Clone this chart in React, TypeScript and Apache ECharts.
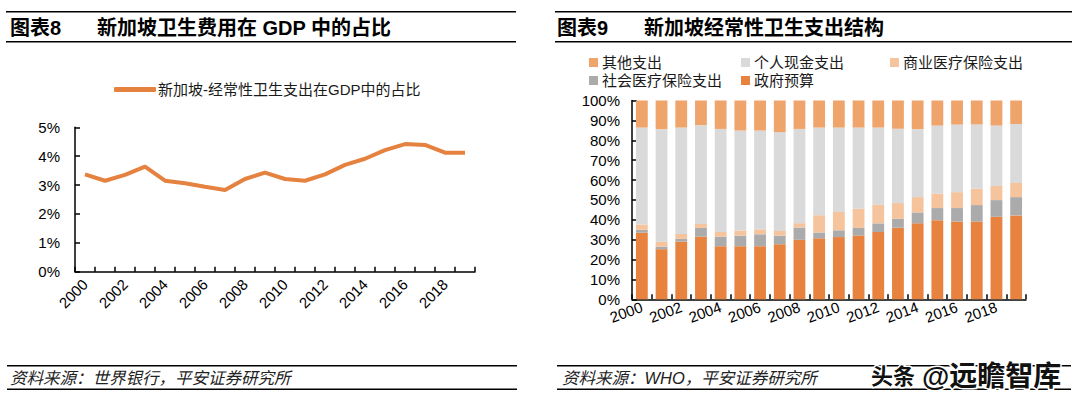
import React, { useEffect, useRef } from 'react';
import * as echarts from 'echarts';

const FONT = "'Liberation Sans', 'Noto Sans CJK SC', sans-serif";

// 年份
const years = [
  '2000', '2001', '2002', '2003', '2004', '2005', '2006', '2007', '2008', '2009',
  '2010', '2011', '2012', '2013', '2014', '2015', '2016', '2017', '2018', '2019',
];

// 图表8：经常性卫生支出占GDP比重（%）
const gdpShare = [
  3.37, 3.15, 3.35, 3.64, 3.15, 3.06, 2.94, 2.83, 3.21, 3.43,
  3.21, 3.15, 3.37, 3.70, 3.91, 4.21, 4.42, 4.39, 4.12, 4.12,
];

// 图表9：卫生支出结构（%）
const govBudget = [33.5, 25.2, 29.0, 31.5, 26.7, 26.7, 26.7, 27.7, 29.9, 30.7, 31.3, 32.1, 33.8, 36.0, 38.2, 39.8, 39.1, 39.1, 41.5, 42.2];
const socialIns = [1.5, 1.3, 1.4, 4.4, 4.8, 5.3, 6.0, 4.3, 6.2, 2.9, 3.4, 3.8, 4.4, 4.5, 5.5, 6.1, 6.8, 8.3, 8.4, 9.2];
const commercialIns = [2.6, 2.5, 2.5, 2.0, 2.4, 2.6, 2.5, 2.4, 2.2, 8.7, 9.2, 9.6, 9.4, 7.9, 7.7, 7.3, 8.0, 8.3, 7.1, 7.1];
const outOfPocket = [48.8, 56.6, 53.5, 49.7, 51.8, 50.3, 49.7, 49.7, 47.4, 44.1, 42.5, 40.9, 38.8, 37.4, 34.2, 34.2, 34.0, 32.3, 30.4, 29.7];
const otherExp = [13.6, 14.4, 13.6, 12.4, 14.3, 15.1, 15.1, 15.9, 14.3, 13.6, 13.6, 13.6, 13.6, 14.2, 14.4, 12.6, 12.1, 12.0, 12.6, 11.8];

const leftTicks = [0, 1, 2, 3, 4, 5];

const hLine = (x1: number, x2: number, y: number) => ({
  type: 'line',
  shape: { x1, y1: y, x2, y2: y },
  style: { stroke: '#000', lineWidth: 1.5 },
});

const txt = (text: string, x: number, y: number, extra: any = {}) => ({
  type: 'text',
  x,
  y,
  style: {
    text,
    fontFamily: FONT,
    fontSize: 15,
    fill: '#000',
    verticalAlign: 'middle',
    ...extra,
  },
});

const axisCommon = {
  axisLine: { show: true, lineStyle: { color: '#000', width: 1.5 } },
  axisTick: { show: true, inside: true, length: 5, lineStyle: { color: '#000', width: 1.5 } },
  splitLine: { show: false },
};

const legendItem = (name: string, left: number, top: number) => ({
  data: [name],
  left,
  top,
  icon: 'rect',
  itemWidth: 9,
  itemHeight: 9,
  itemGap: 0,
  padding: 0,
  textStyle: { fontSize: 15, fontFamily: FONT, color: '#1a1a1a', padding: [0, 0, 0, -1] },
});

const App = () => {
  const ref = useRef<HTMLDivElement>(null);

  useEffect(() => {
    document.body.style.margin = '0';
    if (!ref.current) return;
    const chart = echarts.init(ref.current, undefined, { renderer: 'svg' });

    const option: any = {
      animation: false,
      backgroundColor: '#fff',
      textStyle: { fontFamily: FONT },
      legend: [
        {
          data: ['新加坡-经常性卫生支出在GDP中的占比'],
          left: 114,
          top: 82,
          icon: 'roundRect',
          itemWidth: 42,
          itemHeight: 5,
          padding: 0,
          textStyle: { fontSize: 15, fontFamily: FONT, color: '#1a1a1a', padding: [0, 0, 0, -3] },
        },
        legendItem('其他支出', 589, 55),
        legendItem('个人现金支出', 741, 55),
        legendItem('商业医疗保险支出', 890, 55),
        legendItem('社会医疗保险支出', 589, 73),
        legendItem('政府预算', 741, 73),
      ],
      grid: [
        { left: 75, top: 127.3, width: 400, height: 144.4 },
        { left: 632, top: 100.5, width: 394, height: 198.8 },
      ],
      xAxis: [
        {
          gridIndex: 0,
          type: 'category',
          data: years,
          boundaryGap: true,
          ...axisCommon,
          axisTick: { ...axisCommon.axisTick, interval: 0 },
          axisLabel: { interval: 1, rotate: 45, margin: 10, fontSize: 15, color: '#000', fontFamily: FONT },
        },
        {
          gridIndex: 1,
          type: 'category',
          data: years,
          boundaryGap: true,
          ...axisCommon,
          axisTick: { ...axisCommon.axisTick, interval: 0 },
          axisLabel: { interval: 1, rotate: 20, margin: 7, fontSize: 15, color: '#000', fontFamily: FONT },
        },
      ],
      yAxis: [
        {
          gridIndex: 0,
          type: 'value',
          min: leftTicks[0],
          max: leftTicks[leftTicks.length - 1],
          interval: 1,
          ...axisCommon,
          axisLabel: { formatter: (v: number) => v + '%', margin: 15, fontSize: 15, color: '#000', fontFamily: FONT },
        },
        {
          gridIndex: 1,
          type: 'value',
          min: 0,
          max: 100,
          interval: 10,
          ...axisCommon,
          axisLabel: { formatter: (v: number) => v + '%', margin: 12, fontSize: 15, color: '#000', fontFamily: FONT },
        },
      ],
      series: [
        {
          name: '新加坡-经常性卫生支出在GDP中的占比',
          type: 'line',
          xAxisIndex: 0,
          yAxisIndex: 0,
          data: gdpShare,
          symbol: 'none',
          lineStyle: { color: '#E5823F', width: 4 },
          itemStyle: { color: '#E5823F' },
        },
        {
          name: '政府预算',
          type: 'bar',
          stack: 'total',
          xAxisIndex: 1,
          yAxisIndex: 1,
          barWidth: '60%',
          data: govBudget,
          itemStyle: { color: '#E8823F' },
        },
        {
          name: '社会医疗保险支出',
          type: 'bar',
          stack: 'total',
          xAxisIndex: 1,
          yAxisIndex: 1,
          data: socialIns,
          itemStyle: { color: '#ABABAB' },
        },
        {
          name: '商业医疗保险支出',
          type: 'bar',
          stack: 'total',
          xAxisIndex: 1,
          yAxisIndex: 1,
          data: commercialIns,
          itemStyle: { color: '#F5C39C' },
        },
        {
          name: '个人现金支出',
          type: 'bar',
          stack: 'total',
          xAxisIndex: 1,
          yAxisIndex: 1,
          data: outOfPocket,
          itemStyle: { color: '#DADADA' },
        },
        {
          name: '其他支出',
          type: 'bar',
          stack: 'total',
          xAxisIndex: 1,
          yAxisIndex: 1,
          data: otherExp,
          itemStyle: { color: '#EFA46C' },
        },
      ],
      graphic: [
        // 左侧标题
        hLine(6, 516, 11.7),
        hLine(6, 516, 41.7),
        txt('图表8', 10, 28, { fontSize: 20, fontWeight: 'bold' }),
        txt('新加坡卫生费用在 GDP 中的占比', 97, 28, { fontSize: 20, fontWeight: 'bold' }),
        // 右侧标题
        hLine(555, 1072, 11.7),
        hLine(555, 1072, 41.7),
        txt('图表9', 557, 28, { fontSize: 20, fontWeight: 'bold' }),
        txt('新加坡经常性卫生支出结构', 644, 28, { fontSize: 20, fontWeight: 'bold' }),
        // 资料来源
        hLine(7, 517, 365.7),
        hLine(7, 517, 389.3),
        txt('资料来源：世界银行，平安证券研究所', 10, 377.5, { fontSize: 16.5, fontStyle: 'italic', fill: '#222' }),
        hLine(557, 1071, 365.7),
        hLine(557, 1071, 389.3),
        txt('资料来源：WHO，平安证券研究所', 562, 377.5, { fontSize: 16.5, fontStyle: 'italic', fill: '#222' }),
        // 水印
        txt('头条', 871, 376, { fontSize: 22, fontWeight: 'bold', fill: '#111', stroke: '#fff', lineWidth: 3 }),
        txt('@远瞻智库', 922, 376, { fontSize: 28, fontWeight: 'bold', fill: '#111', stroke: '#fff', lineWidth: 3 }),
      ],
    };

    chart.setOption(option);
    return () => chart.dispose();
  }, []);

  return <div ref={ref} style={{ width: 1080, height: 402 }} />;
};

export default App;
